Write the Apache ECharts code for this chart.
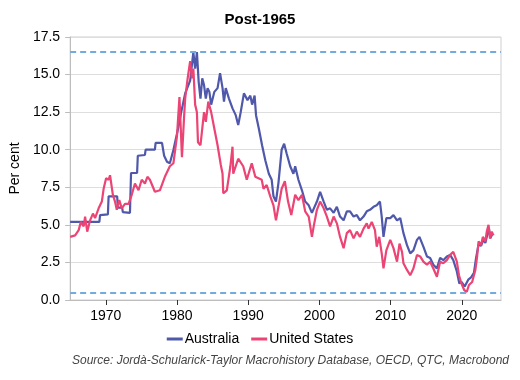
<!DOCTYPE html>
<html>
<head>
<meta charset="utf-8">
<script src="https://cdn.jsdelivr.net/npm/echarts@6/dist/echarts.min.js"></script>
<style>html,body{margin:0;padding:0;background:#fff}#c{width:520px;height:380px}</style>
</head>
<body>
<div id="c"></div>
<script>
var titleText = 'Post-1965';
var yAxisName = 'Per cent';
var sourceText = 'Source: Jordà-Schularick-Taylor Macrohistory Database, OECD, QTC, Macrobond';
var xTicks = [1970, 1980, 1990, 2000, 2010, 2020];
var refLines = [16.5, 0.5];

var ausYears = [1965,1969.1,1969.2,1970.3,1970.4,1971.6,1971.7,1972.3,1972.4,1973.4,1973.55,1974.4,1974.5,1975.5,1975.6,1976.9,1977.0,1977.9,1978.2,1978.6,1979.0,1979.5,1980.2,1980.6,1981.15,1981.85,1982.3,1982.55,1982.8,1983.05,1983.3,1983.55,1983.8,1984.05,1984.3,1984.55,1984.8,1985.25,1985.7,1986.05,1986.4,1986.6,1986.85,1987.3,1987.8,1988.25,1988.6,1988.95,1989.4,1989.9,1990.3,1990.55,1990.9,1991.1,1991.5,1991.95,1992.4,1992.9,1993.3,1993.55,1993.9,1994.25,1994.7,1995.05,1995.4,1995.9,1996.35,1996.6,1997.05,1997.55,1998.0,1998.5,1998.95,1999.65,2000.1,2000.6,2001.05,2001.5,2002.0,2002.45,2002.9,2003.4,2003.85,2004.3,2004.8,2005.25,2005.7,2006.2,2006.65,2007.1,2007.6,2008.05,2008.5,2008.75,2009.0,2009.4,2009.95,2010.4,2010.9,2011.35,2011.8,2012.3,2012.75,2013.2,2013.7,2014.05,2014.6,2015.1,2015.55,2016.0,2016.5,2016.95,2017.4,2017.9,2018.35,2018.8,2019.3,2019.65,2019.95,2020.4,2020.9,2021.3,2021.7,2022.0,2022.35,2022.7,2023.0,2023.3,2023.6,2023.8,2024.0,2024.3];
var ausValues = [5.2,5.2,5.65,5.7,6.9,6.9,6.15,6.15,5.85,5.8,8.45,8.45,9.6,9.65,10.0,10.0,10.45,10.45,9.6,9.2,9.1,9.98,11.5,12.5,13.75,14.6,16.5,15.4,16.5,14.5,13.4,14.75,14.3,13.4,14.1,13.85,13.0,13.85,14.1,15.1,14.1,13.2,14.1,13.4,12.75,12.3,11.65,12.5,13.75,13.3,13.6,13.0,13.6,12.3,11.4,10.3,9.3,8.4,8.0,6.9,6.55,7.8,10.0,10.4,9.75,8.9,8.4,8.9,8.0,7.3,6.55,6.3,5.8,6.55,7.2,6.55,6.0,6.1,5.8,6.2,5.55,5.3,5.9,5.9,5.55,5.65,5.3,5.55,5.9,6.0,6.2,6.3,6.55,5.55,4.2,5.45,5.45,5.65,5.3,5.45,4.45,3.65,3.1,3.3,4.0,4.2,3.55,2.9,2.8,2.35,2.1,2.8,2.65,2.9,3.0,2.65,1.9,1.1,1.2,0.9,1.35,1.5,1.8,2.8,3.7,3.6,4.0,3.8,4.4,4.8,4.1,4.4];

var usYears = [1965.0,1965.7,1966.2,1966.5,1966.9,1967.1,1967.4,1967.8,1968.2,1968.5,1969.0,1969.45,1969.7,1970.05,1970.4,1970.6,1971.0,1971.3,1971.55,1971.9,1972.25,1972.7,1973.2,1973.65,1974.1,1974.6,1975.05,1975.5,1975.85,1976.2,1976.9,1977.6,1978.3,1979.0,1979.5,1980.0,1980.35,1980.7,1981.0,1981.15,1981.5,1981.85,1982.1,1982.3,1982.55,1982.8,1982.95,1983.3,1983.55,1983.8,1984.05,1984.4,1984.8,1985.25,1985.7,1986.15,1986.4,1986.5,1987.0,1987.5,1987.8,1987.9,1988.6,1989.3,1989.8,1990.5,1991.0,1991.45,1991.9,1992.15,1992.6,1993.1,1993.55,1993.9,1994.25,1994.7,1995.15,1995.6,1996.05,1996.6,1997.05,1997.55,1998.0,1998.5,1998.95,1999.2,1999.65,2000.1,2000.6,2001.05,2001.5,2002.0,2002.45,2002.9,2003.4,2003.85,2004.3,2004.8,2005.25,2005.7,2006.2,2006.65,2006.9,2007.35,2007.8,2008.05,2008.4,2008.75,2009.0,2009.4,2009.95,2010.4,2010.9,2011.25,2011.6,2011.8,2012.3,2012.75,2013.2,2013.7,2014.15,2014.6,2015.1,2015.55,2016.0,2016.5,2016.95,2017.4,2017.9,2018.35,2018.8,2019.3,2019.6,2019.95,2020.35,2020.7,2021.0,2021.45,2021.7,2021.9,2022.15,2022.35,2022.7,2022.95,2023.3,2023.5,2023.75,2023.95,2024.2,2024.45];
var usValues = [4.2,4.3,4.65,5.2,4.9,5.55,4.55,5.3,5.75,5.45,6.1,6.55,7.4,8.1,8.0,8.3,7.0,6.55,6.0,6.65,6.1,6.4,6.4,7.0,7.75,7.3,8.0,7.75,8.2,8.0,7.2,7.3,8.2,8.9,9.1,10.9,13.5,9.5,12.2,13.4,14.75,15.9,14.75,15.4,13.0,12.5,10.5,10.3,11.4,12.5,11.85,13.2,12.5,11.4,10.3,9.0,8.4,7.1,7.3,8.9,10.2,8.4,9.4,8.9,8.0,9.1,8.2,8.1,8.0,7.4,7.65,6.9,6.3,5.3,6.2,7.4,7.9,6.55,5.65,7.0,6.65,7.0,5.9,5.55,4.2,4.9,6.0,6.55,6.1,5.55,4.9,5.55,5.1,4.2,3.45,4.45,4.65,4.1,4.55,4.2,4.75,5.1,4.75,5.2,4.65,3.55,4.2,3.1,2.1,3.3,4.0,3.45,2.55,3.75,3.2,2.45,2.0,1.65,2.1,3.0,2.9,2.55,2.35,2.55,2.1,1.55,2.55,2.45,2.65,3.0,3.2,2.55,1.65,1.1,0.65,0.55,1.0,1.2,1.65,2.0,2.9,3.9,3.65,4.2,3.9,4.55,5.0,4.1,4.55,4.3];

function pairs(xs, ys) { return xs.map(function (x, i) { return [x, ys[i]]; }); }

var chart = echarts.init(document.getElementById('c'), null, { renderer: 'canvas' });
var FONT = 'Liberation Sans, Arial, sans-serif';
chart.setOption({
  animation: false,
  textStyle: { fontFamily: FONT },
  title: {
    text: titleText, left: 'center', top: 7,
    textStyle: { fontSize: 15, fontWeight: 'bold', color: '#000', fontFamily: FONT }
  },
  legend: {
    bottom: 29, left: 'center', itemGap: 12, itemWidth: 16, itemHeight: 3,
    icon: 'rect',
    data: ['Australia', 'United States'],
    textStyle: { fontSize: 14, color: '#000', fontFamily: FONT, padding: [0, 0, 0, -3] }
  },
  grid: { left: 70, right: 19, top: 37, bottom: 80, show: true, borderColor: '#cfcfcf', borderWidth: 1, containLabel: false },
  xAxis: {
    type: 'value', min: 1965, max: 2025.5,
    splitLine: { show: false },
    axisLine: { show: true, lineStyle: { color: '#bdbdbd' } },
    axisTick: { show: true, customValues: xTicks, length: 5, lineStyle: { color: '#333' } },
    axisLabel: { customValues: xTicks, fontSize: 14, color: '#000', margin: 9, fontFamily: FONT, formatter: function (v) { return String(Math.round(v)); } }
  },
  yAxis: {
    type: 'value', min: 0, max: 17.5, interval: 2.5,
    name: yAxisName, nameLocation: 'middle', nameGap: 40,
    nameTextStyle: { fontSize: 14, color: '#000', fontFamily: FONT },
    axisLine: { show: true, lineStyle: { color: '#bdbdbd' } },
    axisTick: { show: true, length: 5, lineStyle: { color: '#bdbdbd' } },
    splitLine: { show: true, lineStyle: { color: '#dedede' } },
    axisLabel: { fontSize: 14, color: '#000', margin: 10, fontFamily: FONT, formatter: function (v) { return v.toFixed(1); } }
  },
  series: [
    {
      name: 'Australia', type: 'line', showSymbol: false, symbol: 'none',
      data: pairs(ausYears, ausValues),
      lineStyle: { color: '#4f58aa', width: 2.2 }, itemStyle: { color: '#4f58aa' },
      markLine: {
        silent: true, symbol: 'none', label: { show: false },
        lineStyle: { color: '#72abdc', type: [6, 4], width: 2 },
        data: refLines.map(function (v) { return { yAxis: v }; })
      },
      z: 2
    },
    {
      name: 'United States', type: 'line', showSymbol: false, symbol: 'none',
      data: pairs(usYears, usValues),
      lineStyle: { color: '#ec4474', width: 2.2 }, itemStyle: { color: '#ec4474' },
      z: 3
    }
  ],
  graphic: [{
    type: 'text', right: 11, top: 355,
    style: { text: sourceText, font: 'italic 12px ' + FONT, fill: '#444', textAlign: 'right' }
  }]
});
</script>
</body>
</html>
